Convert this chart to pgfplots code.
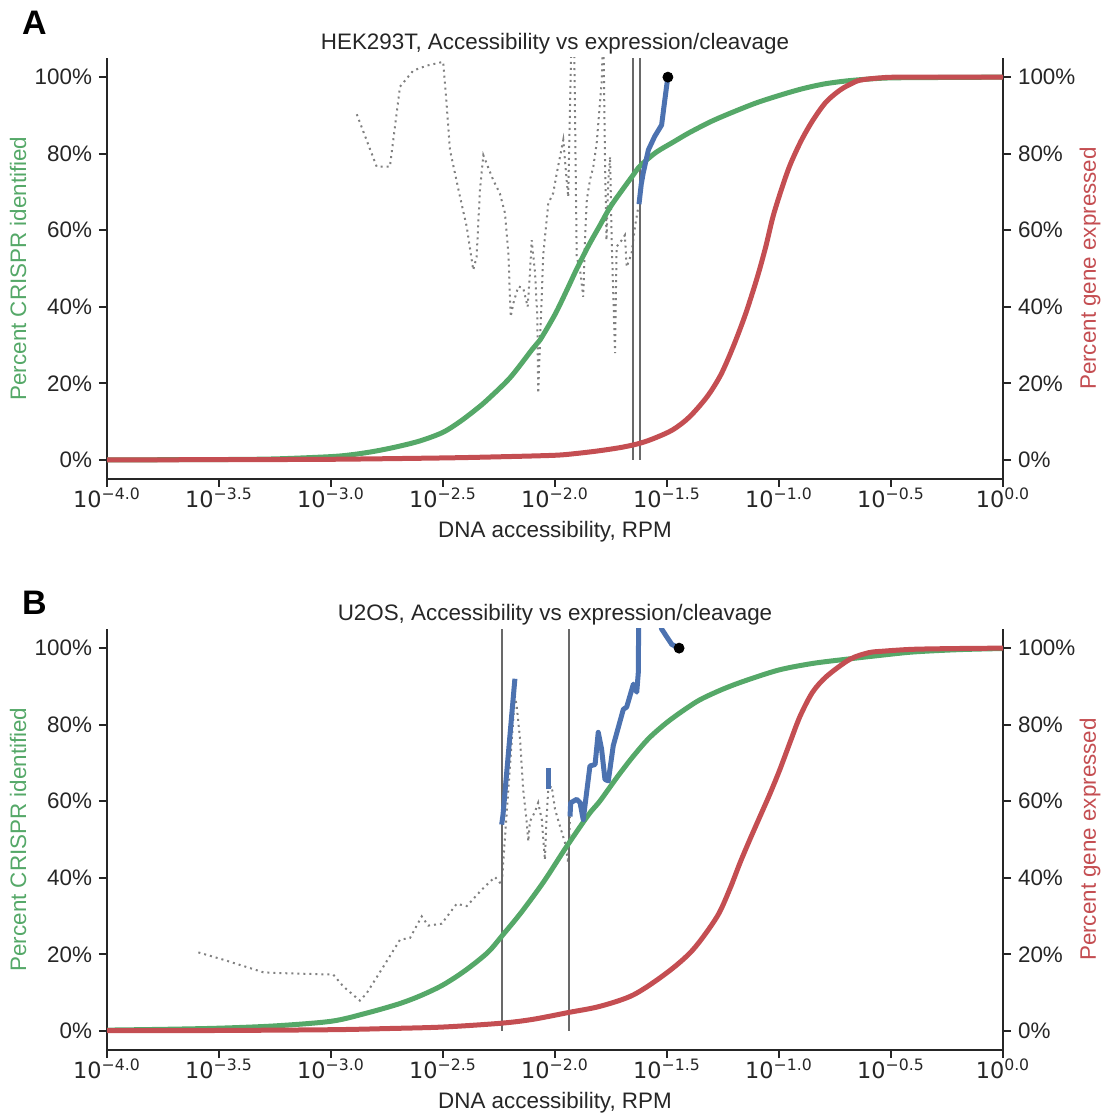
\documentclass[border=0pt]{standalone}
\usepackage{fontspec}
\setmainfont{Liberation Sans}
\newfontfamily\dvs{DejaVu Sans}
\usepackage{pgfplots}
\pgfplotsset{compat=1.18}
\definecolor{cgreen}{RGB}{85,168,104}
\definecolor{cred}{RGB}{196,78,82}
\definecolor{cblue}{RGB}{76,114,176}
\definecolor{spine}{RGB}{38,38,38}
\definecolor{dotgray}{RGB}{128,128,128}
\definecolor{vgray}{RGB}{105,105,105}
\newcommand{\fs}{\fontsize{11.2}{13.4}\selectfont}
\newcommand{\tl}[1]{{\dvs 10\textsuperscript{#1}}}

\pgfplotsset{
  panel/.style={
    scale only axis, width=448pt, height=210.5pt,
    xmin=-4, xmax=0, ymin=-0.05, ymax=1.05,
    tick align=outside, major tick length=4pt,
    tick style={line width=1pt, color=spine},
    axis line style={line width=1pt, color=spine},
    tick label style={font=\fs, color=spine},
    label style={font=\fs},
    ytick={0,0.2,0.4,0.6,0.8,1},
    yticklabels={0\%,20\%,40\%,60\%,80\%,100\%},
  },
  base/.style={
    panel,
    axis x line*=bottom, axis y line*=left,
    xtick={-4,-3.5,-3,-2.5,-2,-1.5,-1,-0.5,0},
    xticklabels={\tl{−4.0},\tl{−3.5},\tl{−3.0},\tl{−2.5},\tl{−2.0},\tl{−1.5},\tl{−1.0},\tl{−0.5},\tl{0.0}},
    xticklabel style={yshift=3pt},
    xlabel={DNA accessibility, RPM},
    xlabel style={at={(axis description cs:0.5,0)}, anchor=base, yshift=-29.5pt, color=spine},
    ylabel={Percent CRISPR identified},
    ylabel style={at={(axis description cs:-0.0993,0.5)}, anchor=center, color=cgreen},
    title style={font=\fs, color=spine, at={(axis description cs:0.5,1)}, anchor=base, yshift=-2pt},
  },
  twin/.style={
    panel,
    axis x line=none, axis y line*=right,
    ylabel={Percent gene expressed},
    ylabel style={at={(axis description cs:1.0971,0.5)}, anchor=center, color=cred},
  },
  curve/.style={line width=2.5pt, line join=round},
  fit/.style={curve, smooth, tension=0.5},
  dots/.style={color=dotgray, line width=1pt, dash pattern=on 1pt off 2pt},
  vline/.style={color=vgray, line width=1pt},
}

\begin{document}
\begin{tikzpicture}
\useasboundingbox (0,0) rectangle (553pt,558pt);

% ---------------- panel A: HEK293T
\begin{axis}[base, at={(53.5pt,318.5pt)}, anchor=south west,
  title={HEK293T, Accessibility vs expression/cleavage}]
\addplot[dots] coordinates {
  (-2.885,0.903) (-2.796,0.766) (-2.737,0.766) (-2.692,0.975) (-2.633,1.017)
  (-2.573,1.030) (-2.499,1.040) (-2.483,0.922) (-2.469,0.810) (-2.424,0.687)
  (-2.394,0.609) (-2.365,0.496) (-2.350,0.530) (-2.335,0.705) (-2.320,0.796)
  (-2.275,0.730) (-2.246,0.696) (-2.223,0.644) (-2.208,0.539) (-2.198,0.374)
  (-2.186,0.409) (-2.164,0.453) (-2.142,0.449) (-2.122,0.400) (-2.112,0.487)
  (-2.104,0.574) (-2.089,0.488) (-2.079,0.374) (-2.075,0.174) (-2.064,0.358)
  (-2.052,0.539) (-2.030,0.670) (-2.008,0.697) (-1.992,0.749) (-1.963,0.836)
  (-1.948,0.731) (-1.941,0.687) (-1.926,1.120) (-1.915,1.120) (-1.903,0.530)
  (-1.888,0.496) (-1.874,0.426) (-1.866,0.574) (-1.858,0.679) (-1.844,0.731)
  (-1.829,0.766) (-1.814,0.827) (-1.792,0.984) (-1.784,1.120) (-1.777,0.792)
  (-1.770,0.574) (-1.762,0.731) (-1.754,0.792) (-1.747,0.574) (-1.732,0.279)
  (-1.725,0.557) (-1.702,0.574) (-1.688,0.587) (-1.680,0.504) (-1.658,0.540)
  (-1.643,0.609) (-1.628,0.661)
};
\addplot[vline] coordinates {(-1.654,0) (-1.654,1.05)};
\addplot[vline] coordinates {(-1.622,0) (-1.622,1.05)};
\addplot[fit, cgreen] coordinates {
  (-4.0,0.0) (-3.5,0.0008) (-3.25,0.0025) (-3.0,0.0085) (-2.9,0.014) (-2.8,0.023)
  (-2.7,0.035) (-2.6,0.050) (-2.5,0.072) (-2.424,0.100) (-2.35,0.133) (-2.3,0.158)
  (-2.2,0.215) (-2.1,0.29) (-2.067,0.313) (-2.0,0.38) (-1.95,0.44) (-1.902,0.50)
  (-1.85,0.56) (-1.8,0.612) (-1.754,0.66) (-1.7,0.705) (-1.65,0.745) (-1.62,0.768)
  (-1.55,0.803) (-1.473,0.83) (-1.4,0.855) (-1.3,0.885) (-1.2,0.91) (-1.1,0.933)
  (-1.0,0.952) (-0.9,0.969) (-0.8,0.982) (-0.7,0.990) (-0.6,0.995) (-0.5,0.998)
  (-0.3,0.999) (0,1.0)
};
\addplot[curve, cblue] coordinates {
  (-1.625,0.668) (-1.615,0.72) (-1.606,0.75) (-1.583,0.81) (-1.555,0.845)
  (-1.524,0.875) (-1.512,0.93) (-1.502,0.975) (-1.496,1.0)
};
\addplot[only marks, mark=*, mark size=2.5pt, black] coordinates {(-1.496,1.0)};
\end{axis}
\begin{axis}[twin, at={(53.5pt,318.5pt)}, anchor=south west]
\addplot[fit, cred] coordinates {
  (-4.0,0.0) (-3.5,0.0005) (-3.0,0.0015) (-2.5,0.005) (-2.25,0.008) (-2.0,0.012)
  (-1.9,0.017) (-1.8,0.024) (-1.7,0.033) (-1.62,0.0435) (-1.55,0.058) (-1.473,0.079)
  (-1.40,0.112) (-1.321,0.165) (-1.26,0.222) (-1.205,0.295) (-1.15,0.38)
  (-1.098,0.475) (-1.06,0.555) (-1.027,0.635) (-0.99,0.705) (-0.951,0.77) (-0.90,0.835)
  (-0.848,0.888) (-0.79,0.935) (-0.728,0.966) (-0.68,0.982) (-0.638,0.992)
  (-0.55,0.998) (-0.45,1.0) (0,1.0)
};
\end{axis}

% ---------------- panel B: U2OS
\begin{axis}[base, at={(53.5pt,33pt)}, anchor=south west,
  title={U2OS, Accessibility vs expression/cleavage}]
\addplot[dots] coordinates {
  (-3.592,0.205) (-3.481,0.186) (-3.302,0.153) (-3.228,0.151) (-2.990,0.147)
  (-2.945,0.116) (-2.871,0.079) (-2.841,0.098) (-2.766,0.168) (-2.692,0.238)
  (-2.647,0.243) (-2.595,0.299) (-2.566,0.275) (-2.506,0.280) (-2.439,0.332)
  (-2.394,0.326) (-2.327,0.369) (-2.268,0.402) (-2.238,0.382) (-2.179,0.875)
  (-2.171,0.849) (-2.156,0.762) (-2.142,0.631) (-2.126,0.544) (-2.119,0.495)
  (-2.112,0.547) (-2.089,0.573) (-2.075,0.596) (-2.059,0.552) (-2.045,0.447)
  (-2.037,0.563) (-2.030,0.631) (-2.015,0.640) (-2.000,0.579) (-1.978,0.535)
  (-1.955,0.491) (-1.941,0.439) (-1.933,0.560)
};
\addplot[vline] coordinates {(-2.237,0) (-2.237,1.05)};
\addplot[vline] coordinates {(-1.936,0) (-1.936,1.05)};
\addplot[fit, cgreen] coordinates {
  (-4.0,0.002) (-3.75,0.004) (-3.5,0.007) (-3.25,0.013) (-3.0,0.025) (-2.85,0.045)
  (-2.7,0.07) (-2.6,0.092) (-2.5,0.12) (-2.4,0.158) (-2.3,0.205) (-2.234,0.25)
  (-2.15,0.31) (-2.05,0.39) (-1.95,0.48) (-1.85,0.565) (-1.8,0.60) (-1.72,0.665)
  (-1.65,0.718) (-1.58,0.765) (-1.5,0.806) (-1.42,0.84) (-1.35,0.866) (-1.25,0.893)
  (-1.15,0.915) (-1.0,0.943) (-0.85,0.96) (-0.7,0.971) (-0.55,0.981) (-0.4,0.99)
  (-0.2,0.996) (0,0.999)
};
\addplot[curve, cblue] coordinates {(-2.238,0.539) (-2.232,0.565) (-2.179,0.92)};
\addplot[curve, cblue] coordinates {(-2.030,0.631) (-2.030,0.688)};
\addplot[curve, cblue] coordinates {
  (-1.933,0.56) (-1.930,0.596) (-1.903,0.605) (-1.888,0.596) (-1.874,0.552)
  (-1.844,0.692) (-1.821,0.696) (-1.807,0.78) (-1.792,0.736) (-1.777,0.657)
  (-1.762,0.653) (-1.740,0.745) (-1.695,0.84) (-1.680,0.846) (-1.650,0.906)
  (-1.635,0.885) (-1.628,0.937) (-1.624,1.30) (-1.600,1.30) (-1.524,1.05)
  (-1.479,1.01) (-1.446,1.0)
};
\addplot[only marks, mark=*, mark size=2.5pt, black] coordinates {(-1.446,1.0)};
\end{axis}
\begin{axis}[twin, at={(53.5pt,33pt)}, anchor=south west]
\addplot[fit, cred] coordinates {
  (-4.0,0.0003) (-3.5,0.001) (-3.0,0.003) (-2.75,0.006) (-2.5,0.01) (-2.24,0.02)
  (-2.1,0.03) (-1.94,0.048) (-1.8,0.064) (-1.65,0.094) (-1.5,0.152) (-1.384,0.212)
  (-1.277,0.298) (-1.22,0.37) (-1.174,0.439) (-1.13,0.50) (-1.085,0.56) (-1.04,0.62)
  (-0.996,0.683) (-0.95,0.755) (-0.906,0.822) (-0.85,0.885) (-0.786,0.927)
  (-0.683,0.971) (-0.6,0.988) (-0.536,0.992) (-0.4,0.997) (-0.2,0.999) (0,1.0)
};
\end{axis}

\node[font=\bfseries\fontsize{17}{20}\selectfont, anchor=base west] at (7.5pt,540.5pt) {A};
\node[font=\bfseries\fontsize{17}{20}\selectfont, anchor=base west] at (7.5pt,250.5pt) {B};
\end{tikzpicture}
\end{document}
